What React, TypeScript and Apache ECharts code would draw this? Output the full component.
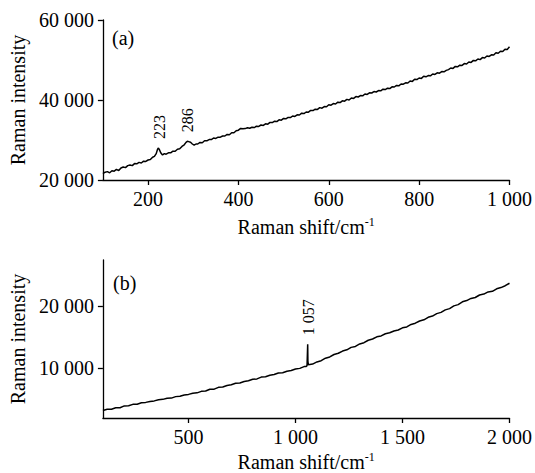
import React, { useEffect, useRef } from "react";
import * as echarts from "echarts";

// Panel (a): Raman shift (cm-1) and intensity
const shiftA = [
  100, 105, 110, 115, 120, 125, 130, 135, 140, 145, 150, 155, 160, 165, 170, 175, 180, 185, 190, 195,
  200, 205, 210, 214, 218, 221, 223, 225, 228, 232, 236, 240, 245, 250, 255, 260, 265, 270, 275, 280,
  284, 287, 290, 294, 298, 302, 306, 310, 315, 320, 325, 330, 335, 340, 345, 350, 355, 360, 365, 370,
  375, 380, 385, 390, 395, 400, 405, 410, 415, 420, 425, 430, 435, 440, 445, 450, 455, 460, 465, 470,
  475, 480, 485, 490, 495, 500, 505, 510, 515, 520, 525, 530, 535, 540, 545, 550, 555, 560, 565, 570,
  575, 580, 585, 590, 595, 600, 605, 610, 615, 620, 625, 630, 635, 640, 645, 650, 655, 660, 665, 670,
  675, 680, 685, 690, 695, 700, 705, 710, 715, 720, 725, 730, 735, 740, 745, 750, 755, 760, 765, 770,
  775, 780, 785, 790, 795, 800, 805, 810, 815, 820, 825, 830, 835, 840, 845, 850, 855, 860, 865, 870,
  875, 880, 885, 890, 895, 900, 905, 910, 915, 920, 925, 930, 935, 940, 945, 950, 955, 960, 965, 970,
  975, 980, 985, 990, 995, 1000,
];
const intensityA = [
  21600, 21950, 22100, 21800, 22300, 22200, 22650, 22350, 23000, 23250, 23100, 23600, 23750, 23600, 24100, 24050, 24400, 24250, 24700, 24650,
  25000, 25100, 25700, 25900, 26600, 27700, 28000, 27600, 26800, 26250, 26600, 26450, 26800, 26800, 27200, 27200, 27700, 27800, 28400, 28800,
  29400, 29700, 29600, 29450, 29000, 28700, 29000, 29000, 29400, 29300, 29800, 29800, 30100, 30100, 30500, 30400, 30700, 30700, 31000, 31000,
  31400, 31300, 31800, 31800, 32300, 32450, 32900, 32800, 32850, 33050, 32950, 33200, 33100, 33450, 33400, 33750, 33650, 34050, 33950, 34400,
  34350, 34700, 34600, 35050, 34950, 35400, 35300, 35650, 35600, 36000, 35900, 36300, 36250, 36700, 36600, 37000, 36950, 37400, 37350, 37700,
  37650, 38100, 37950, 38350, 38300, 38800, 38700, 39100, 39000, 39450, 39350, 39800, 39700, 40150, 40000, 40500, 40400, 40850, 40750, 41100,
  41050, 41500, 41400, 41800, 41750, 42100, 42000, 42350, 42300, 42700, 42600, 42950, 42850, 43300, 43250, 43650, 43550, 44000, 43950, 44300,
  44250, 44750, 44650, 45200, 45100, 45500, 45400, 45950, 45800, 46100, 46050, 46500, 46400, 46800, 46700, 47100, 47050, 47400, 47600, 48000,
  47900, 48400, 48300, 48700, 48650, 49100, 49000, 49500, 49400, 49900, 49800, 50250, 50100, 50600, 50500, 51000, 50900, 51300, 51250, 51800,
  51700, 52200, 52100, 52700, 52650, 53300,
];

// Panel (b)
const shiftB = [
  100, 120, 140, 160, 180, 200, 220, 240, 260, 280, 300, 320, 340, 360, 380, 400, 420, 440, 460, 480,
  500, 520, 540, 560, 580, 600, 620, 640, 660, 680, 700, 720, 740, 760, 780, 800, 820, 840, 860, 880,
  900, 920, 940, 960, 980, 1000, 1020, 1040, 1050, 1054, 1056, 1057, 1058, 1060, 1080, 1100, 1120, 1140, 1160, 1180,
  1200, 1220, 1240, 1260, 1280, 1300, 1320, 1340, 1360, 1380, 1400, 1420, 1440, 1460, 1480, 1500, 1520, 1540, 1560, 1580,
  1600, 1620, 1640, 1660, 1680, 1700, 1720, 1740, 1760, 1780, 1800, 1820, 1840, 1860, 1880, 1900, 1920, 1940, 1960, 1980,
  2000,
];
const intensityB = [
  3200, 3400, 3420, 3650, 3660, 3950, 3970, 4200, 4210, 4450, 4520, 4650, 4760, 4950, 5010, 5200, 5210, 5450, 5510, 5700,
  5810, 6000, 6060, 6300, 6360, 6650, 6660, 6950, 7010, 7250, 7360, 7600, 7660, 7900, 8010, 8250, 8310, 8600, 8660, 8900,
  9010, 9250, 9310, 9550, 9660, 9900, 10010, 10300, 10330, 10450, 12800, 13900, 11200, 10600, 10700, 11050, 11250, 11650, 11850, 12250,
  12450, 12800, 13000, 13400, 13550, 13950, 14150, 14550, 14750, 15100, 15250, 15600, 15750, 16050, 16200, 16550, 16700, 17100, 17300, 17650,
  17850, 18250, 18450, 18850, 19050, 19450, 19650, 20100, 20300, 20750, 20950, 21300, 21450, 21850, 22000, 22350, 22450, 22850, 23050, 23350,
  23750,
];

const ticksXA = [200, 400, 600, 800, 1000];
const ticksYA = [20000, 40000, 60000];
const ticksXB = [500, 1000, 1500, 2000];
const ticksYB = [10000, 20000];

const peakText = ["223", "286", "1 057"];
const peakShift = [223, 286, 1057];
const peakIntensity = [28000, 29700, 13900];
const peakPanel = [0, 0, 1];

const panelText = ["(a)", "(b)"];

const FONT = "'Liberation Serif', 'Times New Roman', serif";

const fmt = (v: number) => {
  if (v < 1000) return String(v);
  const k = Math.floor(v / 1000);
  const r = String(v % 1000).padStart(3, "0");
  return `${k} ${r}`;
};

export default function App() {
  const ref = useRef<HTMLDivElement>(null);
  useEffect(() => {
    if (!ref.current) return;
    const chart = echarts.init(ref.current, undefined, { renderer: "svg" });
    const axisLine = { show: true, lineStyle: { color: "#000", width: 1.3 } };
    const axisTick = (vals: number[]) => ({
      show: true,
      inside: false,
      length: 5,
      lineStyle: { color: "#000", width: 1.3 },
      customValues: vals,
    });
    const axisLabel = (vals: number[], margin: number) => ({
      show: true,
      color: "#000",
      fontSize: 20,
      fontFamily: FONT,
      margin,
      customValues: vals,
      formatter: (v: number) => fmt(v),
    });
    const xName = {
      name: "Raman shift/cm{sup|-1}",
      nameLocation: "middle" as const,
      nameTextStyle: {
        color: "#000",
        fontSize: 20,
        fontFamily: FONT,
        rich: {
          sup: { fontSize: 12, fontFamily: FONT, color: "#000", padding: [0, 0, 10, 0] },
        },
      },
    };
    const yName = {
      name: "Raman intensity",
      nameLocation: "middle" as const,
      nameGap: 71,
      nameTextStyle: { color: "#000", fontSize: 20, fontFamily: FONT },
    };
    chart.setOption({
      animation: false,
      backgroundColor: "#fff",
      grid: [
        { left: 99, right: 23, top: 20, height: 160 },
        { left: 100, right: 23, top: 260, height: 161 },
      ],
      xAxis: [
        {
          type: "value",
          gridIndex: 0,
          min: 100,
          max: 1000,
          splitLine: { show: false },
          axisLine,
          axisTick: axisTick(ticksXA),
          axisLabel: axisLabel(ticksXA, 9),
          ...xName,
          nameGap: 36,
        },
        {
          type: "value",
          gridIndex: 1,
          min: 100,
          max: 2000,
          splitLine: { show: false },
          axisLine,
          axisTick: axisTick(ticksXB),
          axisLabel: axisLabel(ticksXB, 9),
          ...xName,
          nameGap: 33,
        },
      ],
      yAxis: [
        {
          type: "value",
          gridIndex: 0,
          min: 20000,
          max: 60000,
          splitLine: { show: false },
          axisLine,
          axisTick: axisTick(ticksYA),
          axisLabel: axisLabel(ticksYA, 9),
          ...yName,
        },
        {
          type: "value",
          gridIndex: 1,
          min: 2000,
          max: 27500,
          splitLine: { show: false },
          axisLine,
          axisTick: axisTick(ticksYB),
          axisLabel: axisLabel(ticksYB, 9),
          ...yName,
        },
      ],
      series: [
        {
          type: "line",
          xAxisIndex: 0,
          yAxisIndex: 0,
          data: shiftA.map((x, i) => [x, intensityA[i]]),
          showSymbol: false,
          lineStyle: { color: "#000", width: 1.5 },
        },
        {
          type: "line",
          xAxisIndex: 1,
          yAxisIndex: 1,
          data: shiftB.map((x, i) => [x, intensityB[i]]),
          showSymbol: false,
          lineStyle: { color: "#000", width: 1.5 },
        },
      ],
    });

    const graphics: any[] = [];
    peakText.forEach((t, i) => {
      const p = chart.convertToPixel({ gridIndex: peakPanel[i] }, [peakShift[i], peakIntensity[i]]) as number[];
      graphics.push({
        type: "text",
        x: p[0] + 1,
        y: p[1] - 9,
        rotation: Math.PI / 2,
        style: {
          text: t,
          fontSize: 16,
          fontFamily: FONT,
          fill: "#000",
          align: "left",
          verticalAlign: "middle",
          textAlign: "left",
          textVerticalAlign: "middle",
        },
      });
    });
    const panelPos = [
      [112, 38],
      [113, 283],
    ];
    panelText.forEach((t, i) => {
      graphics.push({
        type: "text",
        x: panelPos[i][0],
        y: panelPos[i][1],
        style: {
          text: t,
          fontSize: 20,
          fontFamily: FONT,
          fill: "#000",
          align: "left",
          verticalAlign: "middle",
          textAlign: "left",
          textVerticalAlign: "middle",
        },
      });
    });
    chart.setOption({ graphic: graphics });

    return () => chart.dispose();
  }, []);
  return (
    <div
      ref={ref}
      style={{ position: "fixed", left: 0, top: 0, width: 535, height: 473, background: "#fff" }}
    />
  );
}
